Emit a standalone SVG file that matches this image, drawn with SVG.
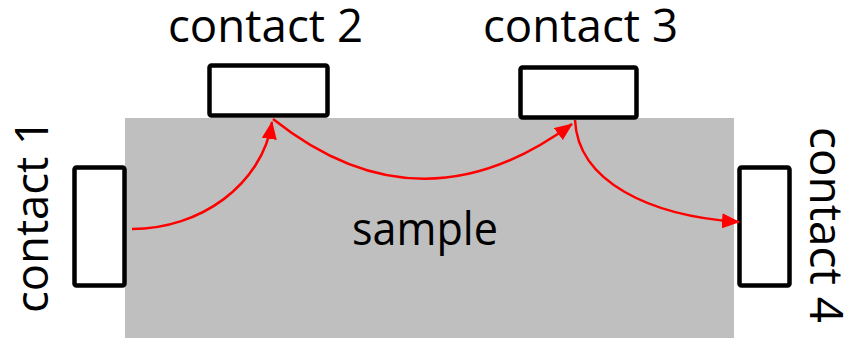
<svg xmlns="http://www.w3.org/2000/svg" width="846" height="338" viewBox="0 0 846 338">
  <style>
    .label { font-family: "Open Sans", "Noto Sans", sans-serif; font-size: 45px; fill: #000; }
    .contact { fill: #fff; stroke: #000; stroke-width: 4.5; }
    .flow { fill: none; stroke: #ff0000; stroke-width: 2.5; marker-end: url(#head); }
  </style>
  <defs>
    <marker id="head" markerUnits="userSpaceOnUse" markerWidth="18" markerHeight="15" viewBox="0 0 18 15" refX="17" refY="7.5" orient="auto">
      <path d="M0,0 L18,7.5 L0,15 z" fill="#ff0000"/>
    </marker>
  </defs>

  <g id="sample">
    <rect x="125" y="118" width="609" height="220" fill="#bfbfbf"/>
    <text class="label" x="352" y="245" textLength="146" lengthAdjust="spacingAndGlyphs">sample</text>
  </g>

  <g id="contact1">
    <rect class="contact" x="74.5" y="167.5" width="50" height="118" rx="2"/>
    <text class="label" transform="translate(48,313) rotate(-90)" textLength="194" lengthAdjust="spacingAndGlyphs">contact 1</text>
  </g>

  <g id="contact2">
    <rect class="contact" x="209.5" y="65.5" width="118" height="50" rx="2"/>
    <text class="label" x="168" y="42" textLength="195" lengthAdjust="spacingAndGlyphs">contact 2</text>
  </g>

  <g id="contact3">
    <rect class="contact" x="520.5" y="67.5" width="116" height="50" rx="2"/>
    <text class="label" x="483" y="42" textLength="195" lengthAdjust="spacingAndGlyphs">contact 3</text>
  </g>

  <g id="contact4">
    <rect class="contact" x="739.5" y="167.5" width="50" height="118" rx="2"/>
    <text class="label" transform="translate(810,127) rotate(90)" textLength="196" lengthAdjust="spacingAndGlyphs">contact 4</text>
  </g>

  <!-- current path through the sample -->
  <g id="connectors">
    <path class="flow" d="M132,229 C200,229 262,185 272,122"/>
    <path class="flow" d="M273,119 Q420,236 572,124"/>
    <path class="flow" d="M575,120 C578,182 650,216 739,222"/>
  </g>
</svg>
